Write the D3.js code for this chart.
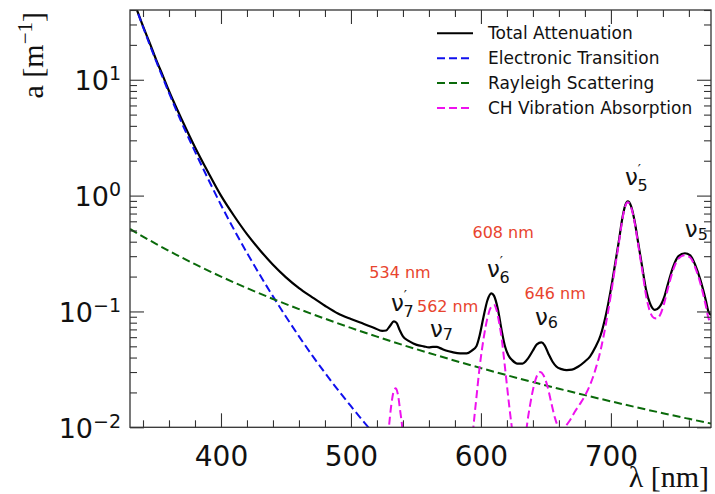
<!DOCTYPE html>
<html><head><meta charset="utf-8">
<script src="https://cdn.jsdelivr.net/npm/d3@7"></script>
<style>body{margin:0;background:#fff} svg{display:block}</style>
</head><body>
<svg id="c" width="715" height="494"></svg>
<script>
// ---- data ----
const totalNm = [330,335,340,345,350,355,360,370,380,390,400,410,420,430,440,450,460,470,480,490,500,510,518,524,527,530,533,535,537.5,540,544,548,552,556,560,563,566,569,573,578,584,589,593,596.5,599,602,605,608,610,613,616,618.5,621,624,628,632,636,640,643,646.5,649,652,655,658,662,666,670,675,680,684,688,692,696,700,703,706,709,711,713,715.5,718.5,721,724,727,730,733.8,737,741,744,748,752,756.9,761,765,769,773,775,777];
const totalA  = [58.5,41,29,21,15,11,8.0,4.5,2.62,1.6,1.0,0.67,0.465,0.338,0.253,0.197,0.159,0.133,0.112,0.096,0.086,0.078,0.072,0.068,0.0685,0.075,0.082,0.080,0.069,0.061,0.056,0.053,0.051,0.050,0.049,0.0495,0.0495,0.048,0.046,0.0445,0.0435,0.0435,0.046,0.050,0.062,0.09,0.125,0.1435,0.137,0.105,0.068,0.050,0.042,0.038,0.0355,0.0355,0.039,0.046,0.052,0.054,0.051,0.043,0.037,0.0335,0.0318,0.0312,0.0315,0.0335,0.037,0.041,0.049,0.062,0.092,0.156,0.248,0.398,0.657,0.823,0.89,0.81,0.58,0.39,0.245,0.155,0.118,0.103,0.108,0.133,0.175,0.245,0.30,0.318,0.305,0.25,0.185,0.125,0.10,0.093];

const electronicNm = [330,335,340,345,350,360,370,380,390,400,410,420,430,440,450,460,470,480,490,500,510,520,530];
const electronicA  = [58,40.6,28.6,20.3,14.6,7.7,4.2,2.4,1.4,0.83,0.51,0.32,0.206,0.135,0.09,0.061,0.042,0.0295,0.021,0.0152,0.0111,0.0082,0.0061];

const rayleighNm = [330,340,350,365,380,400,420,440,460,480,500,520,540,560,580,600,620,640,660,680,700,720,740,760,777];
const rayleighA  = [0.515,0.443,0.3834,0.3113,0.2559,0.200,0.159,0.1282,0.1048,0.0866,0.0721,0.0606,0.0513,0.0438,0.03757,0.03243,0.02815,0.02456,0.02153,0.01895,0.01675,0.01486,0.01323,0.01183,0.01077];

const chNm = [515,522,526,529,531,533,534.5,536,538,539.5,541,545,552,585,590,594,596.5,599,602,605,608,610,612,614,616,618,620,622,624,627,630,633,635,638,641,643.5,645.5,648,651,654,657,660,662,665,668.5,672,676,680,684,688,692,696,700,703,706,709,711,713,715.5,718.5,721,724,727,730,733,735,738,741,744,748,752,756.5,761,765,769,773,775,777];
const chA  = [0.0003,0.0015,0.004,0.0095,0.0155,0.0207,0.0217,0.0195,0.0135,0.0098,0.0055,0.0015,0.0003,0.0003,0.0025,0.0095,0.018,0.033,0.058,0.088,0.110,0.1137,0.103,0.080,0.058,0.037,0.023,0.0145,0.0095,0.005,0.0035,0.0055,0.0095,0.016,0.0235,0.0285,0.030,0.0283,0.023,0.0165,0.012,0.0098,0.0094,0.0102,0.0115,0.0135,0.0158,0.0187,0.0233,0.0313,0.046,0.0764,0.14,0.232,0.382,0.641,0.807,0.875,0.795,0.565,0.375,0.23,0.138,0.1,0.088,0.087,0.094,0.118,0.16,0.23,0.286,0.305,0.292,0.237,0.172,0.112,0.088,0.081];

const legendLabels = ["Total Attenuation","Electronic Transition","Rayleigh Scattering","CH Vibration Absorption"];
const xMajorTicks = [400,500,600,700];
const yMajorExp = [-2,-1,0,1];
const peakLabels = ["534 nm","562 nm","608 nm","646 nm"];
const peakLabelNm = [537.7,574.4,617.1,657.1];
const peakLabelA  = [0.1945,0.0996,0.4285,0.1274];
const modeSub   = ["7","7","6","6","5","5"];
const modePrime = [true,false,true,false,true,false];
const modeNm = [530.8,560.8,604.6,641.5,710.8,756.9];
const modeA  = [0.101,0.0606,0.1986,0.0764,1.237,0.4426];

// ---- layout ----
const L=130,R=711,T=10,B=427.3;
const svg = d3.select('#c');
const x = d3.scaleLinear().domain([330,777]).range([L,R]);
const y = d3.scaleLog().domain([0.01,40]).range([B,T]);
const SANS = "DejaVu Sans, sans-serif";
const SERIF = "Liberation Serif, Times New Roman, serif";

svg.append('defs').append('clipPath').attr('id','clip')
  .append('rect').attr('x',L).attr('y',T).attr('width',R-L).attr('height',B-T);

const line = d3.line().x(d=>x(d[0])).y(d=>y(d[1])).curve(d3.curveMonotoneX);
const zip = (a,b)=>a.map((v,i)=>[v,b[i]]);

const series = [
  {nm: totalNm, a: totalA, color:'#000000', dash:null, w:2.2},
  {nm: electronicNm, a: electronicA, color:'#1010ee', dash:'8,4', w:2},
  {nm: rayleighNm, a: rayleighA, color:'#0a6a0a', dash:'8,4', w:2},
  {nm: chNm, a: chA, color:'#ee11ee', dash:'8,4', w:2}
];

const plot = svg.append('g').attr('clip-path','url(#clip)');
series.forEach(s=>{
  plot.append('path').attr('d', line(zip(s.nm,s.a)))
    .attr('fill','none').attr('stroke',s.color).attr('stroke-width',s.w)
    .attr('stroke-dasharray',s.dash).attr('stroke-linejoin','round');
});

// ---- axes / ticks ----
const xMinor = d3.range(340,777,20).filter(v=>v%100!==0);
const yMinor = [];
[-2,-1,0,1].forEach(e=>{ for(let m=2;m<=9;m++){ const v=m*Math.pow(10,e); if(v<=40) yMinor.push(v);} });

function addAxis(axis, tr){
  const g = svg.append('g').attr('transform',tr).call(axis);
  g.select('.domain').remove();
  g.selectAll('line').attr('stroke','#333').attr('stroke-width',1.1);
  return g;
}
const gb = addAxis(d3.axisBottom(x).tickValues(xMajorTicks).tickSizeInner(-14).tickSizeOuter(0).tickPadding(19).tickFormat(d3.format('d')), `translate(0,${B})`);
gb.attr('font-family',SANS).attr('font-size',28);
gb.selectAll('text').attr('fill','#111');
addAxis(d3.axisBottom(x).tickValues(xMinor).tickSizeInner(-7).tickSizeOuter(0).tickFormat(''), `translate(0,${B})`);
addAxis(d3.axisTop(x).tickValues(xMajorTicks).tickSizeInner(-14).tickSizeOuter(0).tickFormat(''), `translate(0,${T})`);
addAxis(d3.axisTop(x).tickValues(xMinor).tickSizeInner(-7).tickSizeOuter(0).tickFormat(''), `translate(0,${T})`);
const yMajorVals = yMajorExp.map(e=>Math.pow(10,e));
addAxis(d3.axisLeft(y).tickValues(yMajorVals).tickSizeInner(-14).tickSizeOuter(0).tickFormat(''), `translate(${L},0)`);
addAxis(d3.axisLeft(y).tickValues(yMinor).tickSizeInner(-7).tickSizeOuter(0).tickFormat(''), `translate(${L},0)`);
addAxis(d3.axisRight(y).tickValues(yMajorVals).tickSizeInner(-14).tickSizeOuter(0).tickFormat(''), `translate(${R},0)`);
addAxis(d3.axisRight(y).tickValues(yMinor).tickSizeInner(-7).tickSizeOuter(0).tickFormat(''), `translate(${R},0)`);

// y tick labels with superscripts
yMajorExp.forEach(e=>{
  const t = svg.append('text').attr('x',121).attr('y',y(Math.pow(10,e))+10.5)
    .attr('text-anchor','end').attr('font-family',SANS).attr('font-size',27).attr('fill','#111');
  t.append('tspan').text('10');
  t.append('tspan').attr('dy',-10).attr('font-size',19).text(e<0 ? '\u2212'+(-e) : String(e));
});

// frame
svg.append('rect').attr('x',L).attr('y',T).attr('width',R-L).attr('height',B-T)
  .attr('fill','none').attr('stroke','#333').attr('stroke-width',1.3);

// axis labels
const yl = svg.append('text').attr('transform',`translate(43,12) rotate(-90)`)
  .attr('text-anchor','end').attr('font-family',SERIF).attr('font-size',30).attr('fill','#111');
yl.append('tspan').text('a [m');
yl.append('tspan').attr('dy',-11).attr('font-size',21).text('\u22121');
yl.append('tspan').attr('dy',11).text(']');

svg.append('text').attr('x',709).attr('y',487).attr('text-anchor','end')
  .attr('font-family',SERIF).attr('font-size',30).attr('fill','#111').text('\u03bb [nm]');

// legend
const legY0 = 33.3, legDY = 24.9;
series.forEach((s,i)=>{
  const yy = legY0 + i*legDY;
  svg.append('line').attr('x1',437).attr('x2',473).attr('y1',yy).attr('y2',yy)
    .attr('stroke',s.color).attr('stroke-width',2).attr('stroke-dasharray',s.dash);
  svg.append('text').attr('x',488).attr('y',yy+6).attr('font-family',SANS).attr('font-size',17)
    .attr('fill','#111').text(legendLabels[i]);
});

// red wavelength annotations
peakLabels.forEach((lab,i)=>{
  svg.append('text').attr('x',x(peakLabelNm[i])).attr('y',y(peakLabelA[i]))
    .attr('text-anchor','middle').attr('font-family',SANS).attr('font-size',16)
    .attr('fill','#e8442e').text(lab);
});

// mode labels (prime above subscript)
modeSub.forEach((sub,i)=>{
  const px = x(modeNm[i]), py = y(modeA[i]);
  const t = svg.append('text').attr('x',px).attr('y',py).attr('font-family',SANS).attr('font-size',23).attr('fill','#111');
  t.append('tspan').text('\u03bd');
  if(modePrime[i]){
    t.append('tspan').attr('font-size',14).attr('dy',-11).text('\u2032');
    t.append('tspan').attr('font-size',16).attr('dx',-3.5).attr('dy',17.5).text(sub);
  } else {
    t.append('tspan').attr('font-size',16).attr('dy',3.5).text(sub);
  }
});
</script>
</body></html>
